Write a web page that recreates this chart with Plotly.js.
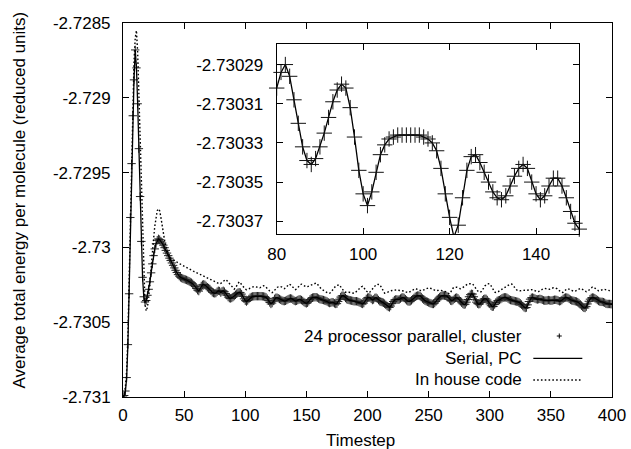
<!DOCTYPE html>
<html>
<head>
<meta charset="utf-8">
<script src="https://cdn.plot.ly/plotly-3.0.1.min.js"></script>
<style>
html,body{margin:0;padding:0;background:#fff;}
#chart{width:631px;height:449px;}
</style>
</head>
<body>
<div id="chart"></div>
<script>
// Average total energy per molecule (reduced units), one value per timestep 0..400
const serialEnergy = [
-2.731,-2.73099,-2.73096,-2.73087,-2.73065,-2.73031,-2.7298,-2.72944,-2.72912,-2.72888,
-2.72868,-2.7288,-2.72904,-2.72934,-2.72966,-2.72996,-2.7302,-2.73033,-2.730365,-2.730355,
-2.73032,-2.73028,-2.73023,-2.73017,-2.73011,-2.730055,-2.73001,-2.729975,-2.729952,-2.729943,
-2.729948,-2.729958,-2.72997,-2.729985,-2.730002,-2.73002,-2.730038,-2.730055,-2.730072,-2.730088,
-2.730104,-2.73012,-2.730137,-2.730153,-2.730168,-2.730182,-2.730192,-2.7302,-2.730205,-2.730209,
-2.730212,-2.730215,-2.730218,-2.730222,-2.730226,-2.730231,-2.730236,-2.730243,-2.730252,-2.730262,
-2.730275,-2.730286,-2.730292,-2.730278,-2.730258,-2.73025,-2.730247,-2.73025,-2.730258,-2.730266,
-2.730272,-2.730278,-2.73029,-2.7303,-2.730305,-2.730307,-2.730305,-2.730296,-2.73029,-2.730292,
-2.730302,-2.730294,-2.73029,-2.730296,-2.730308,-2.73032,-2.730332,-2.730339,-2.730341,-2.730338,
-2.730332,-2.730325,-2.730317,-2.730309,-2.730303,-2.7303,-2.730302,-2.730312,-2.730327,-2.730344,
-2.730356,-2.730362,-2.730355,-2.730345,-2.730336,-2.730331,-2.730328,-2.730327,-2.730326,-2.730326,
-2.730326,-2.730326,-2.730326,-2.730326,-2.730327,-2.730328,-2.73033,-2.730334,-2.730343,-2.730356,
-2.730368,-2.730378,-2.730372,-2.730358,-2.730344,-2.730337,-2.730336,-2.73034,-2.730345,-2.73035,
-2.730355,-2.730358,-2.730359,-2.730357,-2.730352,-2.730347,-2.730343,-2.730341,-2.730343,-2.73035,
-2.730356,-2.730359,-2.730357,-2.730352,-2.730348,-2.730348,-2.730352,-2.730358,-2.730365,-2.730371,
-2.730374,-2.73037,-2.73036,-2.730348,-2.73034,-2.730336,-2.730334,-2.730333,-2.730333,-2.730336,
-2.730342,-2.730346,-2.730348,-2.73035,-2.730352,-2.730355,-2.730358,-2.730362,-2.730368,-2.730372,
-2.73037,-2.730366,-2.730368,-2.730374,-2.730378,-2.730376,-2.730362,-2.730346,-2.730332,-2.730324,
-2.730322,-2.730328,-2.730338,-2.730346,-2.73035,-2.730352,-2.730354,-2.730356,-2.730358,-2.73036,
-2.73036,-2.73036,-2.730362,-2.730366,-2.73037,-2.730375,-2.730378,-2.730372,-2.730358,-2.730344,
-2.730336,-2.730334,-2.730336,-2.730344,-2.730352,-2.730348,-2.730338,-2.730336,-2.730342,-2.730352,
-2.73036,-2.730364,-2.730366,-2.73037,-2.730376,-2.730384,-2.730392,-2.730398,-2.730401,-2.730392,
-2.730376,-2.730362,-2.730352,-2.730348,-2.730348,-2.73035,-2.730348,-2.730342,-2.730336,-2.730334,
-2.730338,-2.730346,-2.730354,-2.73036,-2.730362,-2.73036,-2.730354,-2.730346,-2.730338,-2.73033,
-2.730325,-2.730322,-2.730322,-2.730324,-2.730332,-2.730342,-2.73035,-2.730356,-2.73036,-2.730364,
-2.730368,-2.730372,-2.730375,-2.730378,-2.730378,-2.730372,-2.730362,-2.73035,-2.73034,-2.730332,
-2.730326,-2.730322,-2.730321,-2.730322,-2.730324,-2.730326,-2.730334,-2.730346,-2.730356,-2.730358,
-2.730352,-2.730344,-2.730338,-2.730335,-2.73034,-2.73035,-2.73036,-2.73037,-2.730378,-2.730383,
-2.73038,-2.730366,-2.730348,-2.73033,-2.730316,-2.73031,-2.730312,-2.73033,-2.73035,-2.730366,
-2.730376,-2.73038,-2.730378,-2.730366,-2.730354,-2.730346,-2.730343,-2.730344,-2.730352,-2.730364,
-2.730378,-2.73039,-2.730397,-2.730395,-2.730382,-2.730368,-2.730358,-2.730354,-2.730352,-2.730346,
-2.73034,-2.730336,-2.730334,-2.730334,-2.730336,-2.730342,-2.730348,-2.730352,-2.730354,-2.730356,
-2.730358,-2.73036,-2.730362,-2.730364,-2.730368,-2.730374,-2.730382,-2.730392,-2.7304,-2.730405,
-2.730402,-2.730384,-2.730362,-2.730346,-2.730337,-2.730335,-2.730338,-2.730342,-2.730346,-2.730348,
-2.730346,-2.730344,-2.730346,-2.73035,-2.730354,-2.730356,-2.730356,-2.730354,-2.730352,-2.730354,
-2.730356,-2.730355,-2.730352,-2.73035,-2.73035,-2.730352,-2.730356,-2.73036,-2.730358,-2.730352,
-2.730344,-2.730338,-2.730335,-2.730335,-2.730338,-2.730344,-2.73035,-2.730354,-2.730356,-2.730358,
-2.73036,-2.730362,-2.730366,-2.730372,-2.73038,-2.73039,-2.730398,-2.730404,-2.730405,-2.730396,
-2.730378,-2.73036,-2.730346,-2.730338,-2.730335,-2.730336,-2.73034,-2.730346,-2.730352,-2.730358,
-2.730362,-2.730364,-2.730364,-2.730366,-2.73037,-2.730376,-2.730378,-2.730378,-2.730378,-2.730379,
-2.73038
];

// The 24-processor cluster run lies on top of the serial PC run
const parallelEnergy = serialEnergy;

const inHouseEnergy = [
-2.731,-2.73098,-2.73093,-2.73082,-2.7306,-2.73025,-2.72975,-2.72936,-2.72902,-2.72876,
-2.7286,-2.72855,-2.7287,-2.72898,-2.72931,-2.72964,-2.72996,-2.73022,-2.73038,-2.730425,
-2.7304,-2.730335,-2.73025,-2.73015,-2.730045,-2.729945,-2.72986,-2.729795,-2.729755,-2.729742,
-2.729755,-2.7298,-2.72986,-2.72991,-2.729952,-2.729988,-2.73003,-2.73005,-2.730066,-2.730072,
-2.730077,-2.730082,-2.730088,-2.730095,-2.7301,-2.730104,-2.730108,-2.730112,-2.730117,-2.730122,
-2.730126,-2.73013,-2.730134,-2.730139,-2.730144,-2.730149,-2.730153,-2.730157,-2.730161,-2.730165,
-2.730168,-2.730172,-2.730176,-2.73018,-2.730184,-2.730188,-2.730192,-2.730196,-2.7302,-2.730204,
-2.730208,-2.730212,-2.730216,-2.730221,-2.730226,-2.73023,-2.730234,-2.730238,-2.730242,-2.730244,
-2.73024,-2.730232,-2.730224,-2.730218,-2.730215,-2.730222,-2.730232,-2.730244,-2.730256,-2.730266,
-2.730274,-2.730279,-2.73027,-2.730255,-2.73024,-2.73023,-2.730238,-2.73025,-2.730262,-2.730272,
-2.730279,-2.730283,-2.730282,-2.730277,-2.730272,-2.730268,-2.730264,-2.730262,-2.730262,-2.730264,
-2.730268,-2.730272,-2.73027,-2.730264,-2.730258,-2.730256,-2.730258,-2.730264,-2.730272,-2.730282,
-2.730292,-2.7303,-2.730302,-2.730296,-2.730286,-2.730276,-2.730268,-2.730264,-2.730262,-2.730262,
-2.730265,-2.73027,-2.730276,-2.73027,-2.730262,-2.730252,-2.730245,-2.73025,-2.73026,-2.73027,
-2.730278,-2.730282,-2.730278,-2.730268,-2.730258,-2.73025,-2.730246,-2.73025,-2.730256,-2.730262,
-2.730264,-2.730262,-2.730258,-2.730254,-2.73025,-2.730246,-2.730243,-2.73024,-2.730238,-2.730246,
-2.730258,-2.730268,-2.730276,-2.730282,-2.730288,-2.730294,-2.730298,-2.730302,-2.730305,-2.730307,
-2.7303,-2.73029,-2.730278,-2.730266,-2.730258,-2.730254,-2.730252,-2.73025,-2.730262,-2.730276,
-2.730288,-2.730296,-2.7303,-2.730302,-2.7303,-2.7303,-2.730302,-2.730304,-2.730306,-2.730307,
-2.730302,-2.730294,-2.730284,-2.730275,-2.730268,-2.730263,-2.73026,-2.730268,-2.73028,-2.730292,
-2.7303,-2.730303,-2.730298,-2.730288,-2.730276,-2.730265,-2.730256,-2.73025,-2.730247,-2.730246,
-2.730248,-2.730262,-2.73028,-2.730296,-2.730306,-2.730304,-2.7303,-2.730296,-2.730294,-2.730292,
-2.730288,-2.730286,-2.730284,-2.730283,-2.730284,-2.730286,-2.730287,-2.730286,-2.730285,-2.730288,
-2.730292,-2.730296,-2.7303,-2.730302,-2.7303,-2.730294,-2.730288,-2.730282,-2.730278,-2.730276,
-2.730278,-2.730282,-2.730286,-2.730289,-2.73029,-2.730288,-2.730284,-2.730278,-2.730274,-2.730271,
-2.73027,-2.730271,-2.730275,-2.73028,-2.730285,-2.730289,-2.73029,-2.730288,-2.730286,-2.730286,
-2.730287,-2.730289,-2.73029,-2.730292,-2.730296,-2.730302,-2.730308,-2.73031,-2.7303,-2.730285,
-2.730272,-2.730266,-2.730264,-2.730266,-2.73027,-2.730274,-2.730276,-2.730274,-2.730268,-2.73026,
-2.730252,-2.730246,-2.730244,-2.730243,-2.730244,-2.730245,-2.730244,-2.730256,-2.73027,-2.730282,
-2.73029,-2.730296,-2.7303,-2.730296,-2.730286,-2.730272,-2.730258,-2.730248,-2.730244,-2.730243,
-2.730244,-2.730256,-2.730272,-2.730288,-2.730298,-2.730302,-2.7303,-2.730296,-2.73029,-2.730284,
-2.73028,-2.730276,-2.730272,-2.730266,-2.73026,-2.730254,-2.730249,-2.730246,-2.730245,-2.730254,
-2.730266,-2.730276,-2.730284,-2.730288,-2.73029,-2.73029,-2.730288,-2.730286,-2.730285,-2.730286,
-2.730287,-2.730286,-2.730284,-2.730282,-2.73028,-2.730282,-2.730286,-2.73029,-2.730294,-2.730296,
-2.730295,-2.73029,-2.730284,-2.730278,-2.730275,-2.730274,-2.730275,-2.730278,-2.730282,-2.73028,
-2.730276,-2.730272,-2.73027,-2.73027,-2.730271,-2.730276,-2.730284,-2.730292,-2.730298,-2.730302,
-2.7303,-2.730292,-2.730284,-2.730278,-2.730276,-2.730278,-2.730283,-2.730288,-2.730292,-2.730294,
-2.730292,-2.730286,-2.73028,-2.730276,-2.730274,-2.730276,-2.73028,-2.730286,-2.730292,-2.730296,
-2.730294,-2.730286,-2.730276,-2.730268,-2.730265,-2.730266,-2.730272,-2.73028,-2.730286,-2.73029,
-2.73029,-2.730286,-2.730282,-2.73028,-2.730281,-2.730284,-2.730288,-2.73029,-2.730289,-2.730287,
-2.730285
];

const timestep = serialEnergy.map((_, i) => i);

const seriesNames = ['24 processor parallel, cluster', 'Serial, PC', 'In house code'];
const mainXTicks = [0, 50, 100, 150, 200, 250, 300, 350, 400];
const mainYTicks = [-2.7285, -2.729, -2.7295, -2.73, -2.7305, -2.731];
const mainYTickText = ['-2.7285', '-2.729', '-2.7295', '-2.73', '-2.7305', '-2.731'];
const insetXTicks = [80, 100, 120, 140];
const insetYTicks = [-2.73029, -2.73031, -2.73033, -2.73035, -2.73037];
const insetYTickText = ['-2.73029', '-2.73031', '-2.73033', '-2.73035', '-2.73037'];
const insetFirst = 80, insetLast = 150;
const xTitle = 'Timestep';
const yTitle = 'Average total energy per molecule (reduced units)';

const FONT = '"Liberation Sans", Arial, Helvetica, sans-serif';

const insetX = timestep.slice(insetFirst, insetLast + 1);
const insetSerial = serialEnergy.slice(insetFirst, insetLast + 1);
const insetParallel = parallelEnergy.slice(insetFirst, insetLast + 1);

const DOTS = '1.6px,2.2px';

const traces = [
  {x: timestep, y: parallelEnergy, type: 'scatter', mode: 'markers', xaxis: 'x', yaxis: 'y',
   name: seriesNames[0], showlegend: false,
   marker: {symbol: 'cross-thin', size: 6, color: '#000', line: {width: 1, color: '#222'}}},
  {x: timestep, y: serialEnergy, type: 'scatter', mode: 'lines', xaxis: 'x', yaxis: 'y',
   name: seriesNames[1], showlegend: false, line: {color: '#000', width: 1.3}},
  {x: timestep, y: inHouseEnergy, type: 'scatter', mode: 'lines', xaxis: 'x', yaxis: 'y',
   name: seriesNames[2], showlegend: false, line: {color: '#000', width: 1.4, dash: DOTS}},
  {x: insetX, y: insetSerial, type: 'scatter', mode: 'lines', xaxis: 'x2', yaxis: 'y2',
   showlegend: false, line: {color: '#000', width: 1.3}},
  {x: insetX, y: insetParallel, type: 'scatter', mode: 'markers', xaxis: 'x2', yaxis: 'y2',
   showlegend: false, cliponaxis: false,
   marker: {symbol: 'cross-thin', size: 11, color: '#000', line: {width: 1, color: '#111'}}}
];

const axisBase = {
  showline: true, linecolor: '#000', linewidth: 1, mirror: 'ticks',
  ticks: 'inside', ticklen: 6, tickwidth: 1, tickcolor: '#000',
  showgrid: false, zeroline: false,
  tickfont: {family: FONT, size: 17, color: '#000'}
};

// legend geometry (paper units)
const legRowY = [0.1631, 0.1035, 0.0455];
const legTextX = 0.8207, legLineX0 = 0.8391, legLineX1 = 0.9393, legPlusX = 0.8922;

const shapes = [
  {type: 'line', xref: 'paper', yref: 'paper', x0: legPlusX - 0.0051, x1: legPlusX + 0.0051,
   y0: legRowY[0], y1: legRowY[0], line: {color: '#000', width: 1}},
  {type: 'line', xref: 'paper', yref: 'paper', x0: legPlusX, x1: legPlusX,
   y0: legRowY[0] - 0.0067, y1: legRowY[0] + 0.0067, line: {color: '#000', width: 1}},
  {type: 'line', xref: 'paper', yref: 'paper', x0: legLineX0, x1: legLineX1,
   y0: legRowY[1], y1: legRowY[1], line: {color: '#000', width: 1.3}},
  {type: 'line', xref: 'paper', yref: 'paper', x0: legLineX0, x1: legLineX1,
   y0: legRowY[2], y1: legRowY[2], line: {color: '#000', width: 1.4, dash: DOTS}}
];

const annotations = seriesNames.map((n, i) => ({
  text: n, xref: 'paper', yref: 'paper', x: legTextX, y: legRowY[i],
  xanchor: 'right', yanchor: 'middle', showarrow: false,
  font: {family: FONT, size: 17, color: '#000'}
}));
annotations.push({text: xTitle, xref: 'paper', yref: 'paper', x: 0.4847, y: -0.1155,
  xanchor: 'center', yanchor: 'middle', showarrow: false, font: {family: FONT, size: 17, color: '#000'}});
annotations.push({text: yTitle, xref: 'paper', yref: 'paper', x: -0.2117, y: 0.5267, textangle: -90,
  xanchor: 'center', yanchor: 'middle', showarrow: false, font: {family: FONT, size: 17, color: '#000'}});

const layout = {
  width: 631, height: 449,
  margin: {l: 123, r: 19, t: 23, b: 52, pad: 0},
  paper_bgcolor: '#fff', plot_bgcolor: '#fff',
  font: {family: FONT, size: 17, color: '#000'},
  showlegend: false,
  xaxis: Object.assign({}, axisBase, {range: [0, 400], tickvals: mainXTicks, domain: [0, 1], anchor: 'y', ticklabelstandoff: 3}),
  yaxis: Object.assign({}, axisBase, {range: [-2.731, -2.7285], tickvals: mainYTicks, ticktext: mainYTickText, domain: [0, 1], anchor: 'x', ticklabelstandoff: 8}),
  xaxis2: Object.assign({}, axisBase, {range: [80, 150], tickvals: insetXTicks, domain: [0.3143, 0.9331], anchor: 'y2', ticklabelstandoff: 5}),
  yaxis2: Object.assign({}, axisBase, {range: [-2.7303765, -2.7302795], tickvals: insetYTicks, ticktext: insetYTickText, domain: [0.4358, 0.9439], anchor: 'x2', ticklabelstandoff: 9}),
  shapes: shapes,
  annotations: annotations
};

Plotly.newPlot('chart', traces, layout, {staticPlot: true, displayModeBar: false});
</script>
</body>
</html>
